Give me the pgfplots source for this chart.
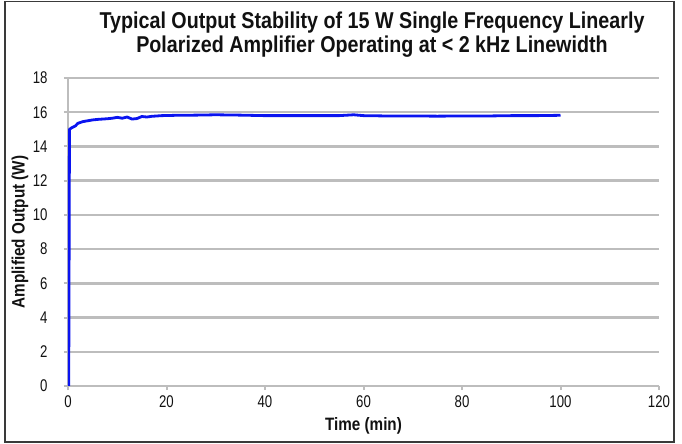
\documentclass[border=0pt]{standalone}
\usepackage{fontspec}
\setmainfont{Liberation Sans}
\newfontfamily\titlefont[FakeStretch=0.86]{Liberation Sans}
\newfontfamily\tickfont[FakeStretch=0.78]{Liberation Sans}
\newfontfamily\labelfont[FakeStretch=0.85]{Liberation Sans}
\usepackage{pgfplots}
\pgfplotsset{compat=1.18}
\definecolor{gridgray}{HTML}{BDBDBD}
\definecolor{framecol}{HTML}{3A3A3A}
\definecolor{lineblue}{HTML}{0A14F0}
\definecolor{textcol}{HTML}{111111}
\begin{document}
\begin{tikzpicture}
\path[use as bounding box] (-68bp,-58bp) rectangle (614bp,386bp);
\draw[framecol, line width=1.8bp] (-63.3bp,-56bp) rectangle (606bp,384.5bp);
\node[anchor=base, font=\titlefont\bfseries\fontsize{23}{23}\selectfont, text=textcol, inner sep=0pt] at (304bp,357bp) {Typical Output Stability of 15 W Single Frequency Linearly};
\node[anchor=base, font=\titlefont\bfseries\fontsize{23}{23}\selectfont, text=textcol, inner sep=0pt] at (304bp,333bp) {Polarized Amplifier Operating at < 2 kHz Linewidth};
\begin{axis}[
  at={(0bp,0bp)}, anchor=south west,
  scale only axis, width=591bp, height=308bp,
  xmin=0, xmax=120, ymin=0, ymax=18,
  xtick={0,20,...,120}, ytick={0,2,...,18},
  axis lines*=left,
  ymajorgrids,
  major grid style={gridgray, line width=2.4bp},
  axis line style={gridgray, line width=2.2bp},
  tick align=outside, major tick length=4bp,
  tick style={gridgray, line width=2bp},
  /pgf/number format/assume math mode=true,
  ticklabel style={font=\tickfont\fontsize{17}{17}\selectfont, text=textcol},
  yticklabel style={anchor=east, xshift=-13bp},
  xticklabel style={anchor=north, yshift=-2bp},
  xlabel={Time (min)},
  ylabel={Amplified Output (W)},
  xlabel style={at={(axis description cs:0.5,-0.13)}, anchor=center, font=\labelfont\bfseries\fontsize{18}{18}\selectfont, text=textcol},
  ylabel style={at={(axis description cs:-0.0812,0.5)}, anchor=center, rotate=0, font=\labelfont\bfseries\fontsize{18}{18}\selectfont, text=textcol},
]
\addplot[lineblue, line width=2.8bp, line join=round] coordinates {
(0,0) (0.15,0) (0.3,15.0) (0.8,15.1) (1.5,15.2) (2,15.35) (3,15.45) (4,15.5) (5,15.55)
(6,15.58) (7,15.6) (8,15.62) (9,15.65) (10,15.7) (11,15.65) (12,15.72) (13,15.6) (14,15.63)
(15,15.75) (16,15.72) (17,15.76) (19,15.8) (22,15.82) (26,15.83) (30,15.85) (35,15.83)
(40,15.8) (45,15.8) (50,15.8) (55,15.8) (58,15.85) (60,15.8) (65,15.78) (70,15.78)
(75,15.77) (80,15.78) (85,15.78) (90,15.8) (95,15.8) (100,15.82)
};
\end{axis}
\end{tikzpicture}
\end{document}
